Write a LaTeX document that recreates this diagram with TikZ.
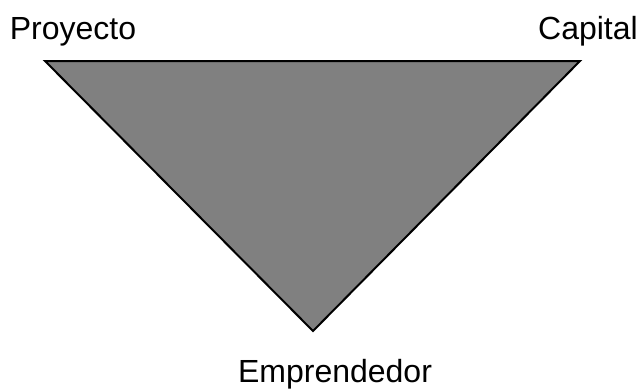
\documentclass[tikz,border=0pt]{standalone}
\usepackage{fontspec}
\setmainfont{Liberation Sans}
\usepackage{xcolor}
\usetikzlibrary{positioning, calc}

\begin{document}
\begin{tikzpicture}[x=0.75pt, y=-0.75pt,
        label/.style={font=\fontsize{24}{28}\selectfont, anchor=base, inner sep=0pt},
        tri/.style={draw=black, fill=black!50, line width=1.5pt, line join=miter}]

        \useasboundingbox (0,0) rectangle (640,389);

        % Vertices
        \coordinate (proyecto) at (45,61);
        \coordinate (capital) at (580,61);
        \coordinate (emprendedor) at (313,331);

        \filldraw [tri] (proyecto) -- (capital) -- (emprendedor) -- cycle;

        % Labels
        \node [label] (lproyecto) at (73,40) {Proyecto};
        \node [label] (lcapital) at (588,40) {Capital};
        \node [label] (lemprendedor) at (335,382) {Emprendedor};

    \end{tikzpicture}
\end{document}
